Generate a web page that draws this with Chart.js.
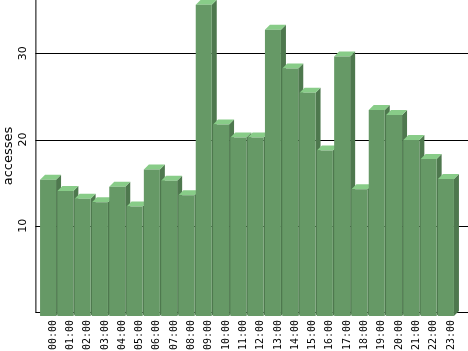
<!DOCTYPE html>
<html>
<head>
<meta charset="utf-8">
<script src="https://cdn.jsdelivr.net/npm/chart.js@4/dist/chart.umd.min.js"></script>
<style>
  html, body { margin: 0; padding: 0; background: #fff; }
  #wrap { width: 468px; height: 351px; }
</style>
</head>
<body>
<div id="wrap"><canvas id="hourChart" width="468" height="351"></canvas></div>
<script>
const hours = ["00:00", "01:00", "02:00", "03:00", "04:00", "05:00", "06:00", "07:00",
  "08:00", "09:00", "10:00", "11:00", "12:00", "13:00", "14:00", "15:00",
  "16:00", "17:00", "18:00", "19:00", "20:00", "21:00", "22:00", "23:00"];
const accesses = [15.8, 14.5, 13.6, 13.2, 15.0, 12.7, 17.0, 15.7, 14.0, 36.1, 22.2, 20.7,
  20.7, 33.2, 28.7, 25.9, 19.2, 30.1, 14.7, 23.9, 23.3, 20.4, 18.2, 15.9];
const yTicks = [10, 20, 30];
const yTitle = "accesses";

const DEPTH = 5;      // 3d face depth
const WALL = 4;       // grid sits on the back wall
const FRONT = "#669966";
const TOP = "#88cc88";
const SIDE = "#4e784e";

// sides, tops, grid and axis go under the front faces
const bars3d = {
  id: "bars3d",
  beforeDatasetsDraw(chart) {
    const { ctx, scales: { y } } = chart;
    const axisX = chart.chartArea.left - 4;
    ctx.save();
    ctx.strokeStyle = "#000";
    ctx.lineWidth = 1;
    [0, ...yTicks].forEach(t => {
      const py = Math.round(y.getPixelForValue(t) - WALL) + 0.5;
      ctx.beginPath();
      ctx.moveTo(axisX, py);
      ctx.lineTo(chart.width, py);
      ctx.stroke();
    });
    ctx.beginPath();
    ctx.moveTo(axisX + 0.5, 0);
    ctx.lineTo(axisX + 0.5, Math.round(y.getPixelForValue(0) - WALL) + 0.5);
    ctx.stroke();

    const meta = chart.getDatasetMeta(0);
    meta.data.forEach(el => {
      const { x, y: top, base, width } = el.getProps(["x", "y", "base", "width"], true);
      const xl = x - width / 2, xr = x + width / 2;
      ctx.fillStyle = SIDE;
      ctx.beginPath();
      ctx.moveTo(xr, top);
      ctx.lineTo(xr + DEPTH, top - DEPTH);
      ctx.lineTo(xr + DEPTH, base - DEPTH);
      ctx.lineTo(xr, base);
      ctx.closePath();
      ctx.fill();
      ctx.fillStyle = TOP;
      ctx.beginPath();
      ctx.moveTo(xl, top);
      ctx.lineTo(xl + DEPTH, top - DEPTH);
      ctx.lineTo(xr + DEPTH, top - DEPTH);
      ctx.lineTo(xr, top);
      ctx.closePath();
      ctx.fill();
    });
    ctx.restore();
  },
  afterDraw(chart) {
    const { ctx, scales: { y } } = chart;
    ctx.save();
    ctx.fillStyle = "#000";
    ctx.textAlign = "center";
    ctx.textBaseline = "alphabetic";
    ctx.font = "11px 'DejaVu Sans'";
    yTicks.forEach(t => {
      const py = y.getPixelForValue(t) - WALL;
      ctx.save();
      ctx.translate(26, py);
      ctx.rotate(-Math.PI / 2);
      ctx.fillText(String(t), 0, 0);
      ctx.restore();
    });
    ctx.font = "13px 'DejaVu Sans'";
    ctx.translate(12, (y.top + y.getPixelForValue(0) - WALL) / 2);
    ctx.rotate(-Math.PI / 2);
    ctx.fillText(yTitle, 0, 0);
    ctx.restore();
  }
};

new Chart(document.getElementById("hourChart"), {
  type: "bar",
  data: {
    labels: hours,
    datasets: [{
      data: accesses,
      backgroundColor: FRONT,
      borderWidth: 0,
      categoryPercentage: 1,
      barPercentage: 0.925
    }]
  },
  options: {
    responsive: false,
    animation: false,
    layout: { padding: { left: 39.4, right: 13.4, top: 0, bottom: 0 } },
    plugins: { legend: { display: false }, tooltip: { enabled: false } },
    scales: {
      x: {
        grid: { display: false, drawTicks: false },
        border: { display: false },
        ticks: {
          autoSkip: false,
          minRotation: 90,
          maxRotation: 90,
          padding: 4,
          labelOffset: 5,
          color: "#000",
          font: { family: "'DejaVu Sans Mono'", size: 10 }
        },
        afterFit(scale) { scale.height = 35; }
      },
      y: {
        display: false,
        min: 0,
        max: 36.65
      }
    }
  },
  plugins: [bars3d]
});
</script>
</body>
</html>
